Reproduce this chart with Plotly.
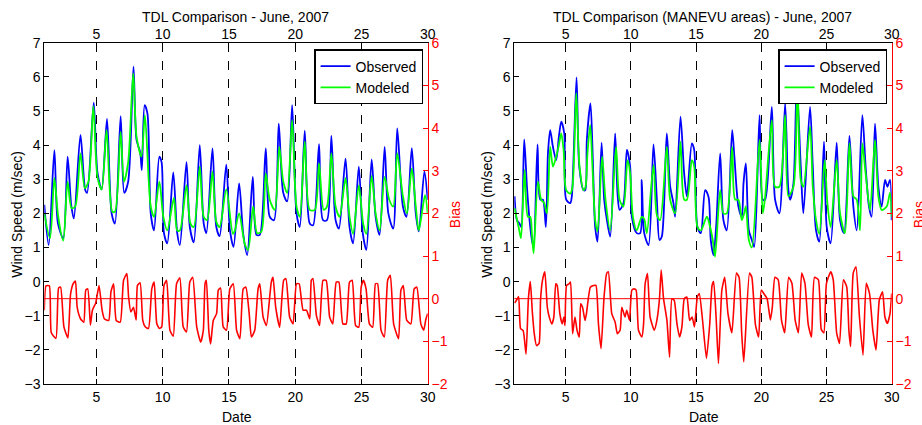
import plotly.graph_objects as go

# ---------------- data (days of June 2007) ----------------
left_obs_t = [1.07,1.4,1.83,2.1,2.5,2.83,3.1,3.3,3.8,4.15,4.3,4.8,5.08,5.4,5.8,6.15,6.4,6.83,7.1,7.4,7.8,8.03,8.3,8.43,8.64,8.85,9.1,9.35,9.75,9.92,10.1,10.35,10.8,11.1,11.3,11.8,12.05,12.35,12.8,13.1,13.3,13.76,14.05,14.3,14.8,15.08,15.35,15.77,16.08,16.38,16.8,17.08,17.33,17.78,18.08,18.4,18.76,19.1,19.4,19.77,20.1,20.35,20.72,21.1,21.35,21.8,22.1,22.4,22.73,23.05,23.3,23.8,24.1,24.37,24.8,25.1,25.37,25.77,26.07,26.37,26.75,27.03,27.4,27.7,28.13,28.4,28.8,29.1,29.33,29.75,30.0]
left_obs_v = [2.25,1.07,3.85,1.7,1.27,3.66,2.25,1.85,4.3,2.7,2.6,5.24,3.2,2.7,4.77,2.0,1.7,4.85,2.6,2.93,6.3,4.15,3.8,3.27,5.17,4.93,2.0,1.5,3.66,3.5,1.42,1.12,3.2,1.42,1.07,3.5,1.6,1.15,4.0,1.7,1.42,3.9,1.6,1.33,3.43,1.5,1.02,2.88,1.4,0.78,3.07,1.37,1.37,3.9,1.9,1.8,4.63,2.6,2.35,5.17,2.0,1.6,4.42,1.7,1.65,4.03,1.8,1.8,4.27,1.8,1.55,3.6,1.6,1.12,3.37,1.42,0.93,3.58,1.9,1.37,3.95,2.0,1.55,4.49,2.2,1.9,3.91,2.0,1.47,3.22,2.4]

left_mod_t = [1.07,1.5,1.83,2.12,2.5,2.83,3.13,3.4,3.8,4.13,4.4,4.77,5.08,5.4,5.77,6.2,6.4,6.83,7.08,7.4,7.78,8.03,8.4,8.66,9.1,9.35,9.75,10.05,10.35,10.85,11.1,11.3,11.8,12.1,12.35,12.8,13.1,13.35,13.76,14.05,14.3,14.8,15.3,15.45,15.77,16.2,16.45,16.83,17.13,17.45,17.78,18.08,18.46,18.8,19.1,19.4,19.77,20.1,20.35,20.72,21.1,21.48,21.8,22.15,22.4,22.73,23.05,23.35,23.8,24.1,24.37,24.8,25.13,25.37,25.77,26.07,26.37,26.75,27.1,27.4,27.7,28.13,28.43,28.8,29.1,29.33,29.8,30.0]
left_mod_v = [2.0,1.27,3.03,1.9,1.2,2.93,2.15,2.2,3.76,2.74,2.93,5.14,3.07,2.7,4.44,2.05,2.05,4.39,2.93,3.5,6.1,4.25,3.66,4.88,2.2,1.9,2.93,1.9,1.5,2.45,1.5,1.5,2.82,1.7,1.6,3.37,1.9,1.8,3.22,1.75,1.6,2.7,1.4,1.5,2.0,1.1,0.93,2.2,1.42,1.47,3.17,2.4,2.1,3.95,2.93,2.6,4.73,2.2,1.9,4.1,2.1,2.1,3.46,2.1,2.2,3.76,2.2,1.9,3.03,1.9,1.4,2.82,1.7,1.4,3.1,2.0,1.5,3.07,2.4,2.2,3.76,2.5,2.0,3.32,2.2,1.5,2.53,2.0]

left_bias_t = [1.07,1.2,1.45,1.6,1.95,2.15,2.3,2.55,2.85,3.05,3.25,3.42,3.55,3.8,4.05,4.2,4.35,4.55,4.7,4.95,5.2,5.43,5.6,5.93,6.1,6.3,6.5,6.8,7.05,7.3,7.43,7.6,7.8,8.0,8.1,8.3,8.5,8.68,8.93,9.18,9.36,9.56,9.76,9.93,10.1,10.3,10.55,10.8,11.05,11.3,11.55,11.8,12.05,12.27,12.57,12.87,13.07,13.2,13.3,13.48,13.62,13.82,14.07,14.2,14.37,14.57,14.82,15.07,15.33,15.58,15.83,16.08,16.28,16.53,16.7,16.95,17.2,17.33,17.58,17.83,18.2,18.33,18.53,18.83,19.13,19.3,19.58,19.84,20.1,20.3,20.6,20.85,21.1,21.22,21.34,21.6,21.84,22.1,22.34,22.6,22.84,23.1,23.3,23.6,23.85,24.1,24.3,24.56,24.8,24.98,25.15,25.35,25.6,25.85,26.06,26.22,26.48,26.73,26.98,27.18,27.43,27.8,27.98,28.16,28.42,28.73,28.98,29.18,29.48,29.7,29.85,30.0]
left_bias_v = [-0.27,0.3,0.3,-0.8,-0.93,0.25,0.27,-0.66,-0.92,0.1,0.35,0.41,-0.2,-0.47,-0.55,0.2,0.23,-0.62,-0.27,-0.1,0.31,-0.27,-0.47,-0.51,0.16,0.35,-0.51,-0.55,0.43,0.59,0.04,-0.31,-0.2,-0.5,0.31,0.37,-0.51,-0.66,-0.7,0.23,0.39,-0.59,-0.7,-0.66,0.31,0.43,-0.74,-0.88,0.35,0.49,-0.66,-0.78,0.39,0.5,-0.66,-1.02,-0.74,0.35,0.43,-0.74,-1.06,-0.51,-0.35,0.2,0.25,-0.66,-0.74,0.23,0.35,-0.74,-0.94,0.23,0.27,-0.35,-0.9,-0.74,0.23,0.35,-0.43,-0.63,0.39,0.5,-0.2,-0.67,0.43,0.47,-0.43,-0.59,0.35,0.35,-0.27,-0.27,-0.47,0.43,0.47,-0.39,-0.63,0.43,0.43,-0.43,-0.59,0.39,0.39,-0.59,-0.59,0.39,0.43,-0.63,-0.67,0.27,0.43,0.23,-0.59,-0.67,0.35,0.35,-0.74,-0.9,0.43,0.55,-0.59,-0.94,0.2,0.31,-0.51,-0.59,0.23,0.27,-0.59,-0.74,-0.5,-0.35]

right_obs_t = [1.09,1.27,1.47,1.6,1.83,2.04,2.24,2.42,2.55,2.85,3.06,3.26,3.49,3.65,3.82,4.03,4.28,4.49,4.67,4.9,5.05,5.36,5.48,5.84,6.05,6.38,6.51,6.63,6.91,7.09,7.27,7.45,7.76,7.96,8.17,8.42,8.8,8.98,9.14,9.44,9.7,9.95,10.08,10.46,10.72,10.84,11.03,11.36,11.74,12.0,12.2,12.38,12.76,13.02,13.27,13.4,13.81,14.09,14.3,14.68,14.86,15.11,15.37,15.7,15.96,16.13,16.34,16.54,16.85,17.1,17.36,17.77,17.94,18.25,18.51,18.64,18.82,19.05,19.28,19.46,19.87,20.12,20.3,20.81,21.06,21.39,21.83,22.08,22.21,22.47,22.72,23.03,23.23,23.74,23.95,24.2,24.45,24.81,25.02,25.32,25.78,26.04,26.35,26.76,27.06,27.32,27.75,28.0,28.26,28.46,28.72,28.98,29.23,29.49,29.67,29.87,30.0]
right_obs_v = [2.5,1.8,1.7,1.6,4.17,2.78,1.8,1.22,1.02,4.02,2.4,2.4,1.6,3.76,4.44,3.95,3.56,4.25,4.69,4.34,2.4,2.3,2.5,5.98,3.37,2.68,2.68,4.15,5.22,3.56,1.6,1.17,4.07,2.4,1.8,1.32,4.34,2.6,2.1,2.3,3.86,3.37,1.9,1.42,1.42,2.98,1.42,1.07,4.02,2.4,1.22,1.32,4.34,2.78,2.3,1.9,4.83,3.17,2.5,4.05,3.86,1.6,1.42,2.68,2.48,1.22,0.78,1.6,3.76,1.8,1.5,4.44,3.66,2.2,1.9,2.88,3.46,1.5,1.22,1.02,4.88,2.4,2.4,5.12,2.4,2.0,5.22,2.68,2.4,2.88,5.76,3.37,2.0,5.12,3.37,1.5,1.17,4.1,1.6,1.12,4.07,1.8,1.42,4.27,2.2,1.5,4.88,3.37,2.2,1.9,4.63,2.78,2.2,2.98,2.78,2.98,1.8]

right_mod_t = [1.09,1.4,1.58,1.86,2.11,2.29,2.42,2.55,2.88,3.13,3.36,3.57,3.82,4.03,4.28,4.46,4.67,4.85,5.05,5.36,5.53,5.82,6.07,6.38,6.53,6.68,6.89,7.06,7.27,7.45,7.8,8.06,8.42,8.87,9.14,9.44,9.75,9.95,10.16,10.46,10.84,11.03,11.23,11.74,12.0,12.25,12.76,13.02,13.4,13.81,14.09,14.3,14.68,14.86,15.11,15.37,15.83,16.08,16.28,16.46,16.85,17.1,17.36,17.77,18.0,18.25,18.51,18.69,18.82,19.05,19.28,19.87,20.12,20.3,20.81,21.06,21.39,21.83,22.08,22.47,22.77,23.03,23.23,23.74,23.95,24.2,24.45,24.86,25.07,25.32,25.78,26.04,26.42,26.76,27.06,27.32,27.57,27.75,28.0,28.34,28.72,28.98,29.23,29.62,29.87,30.0]
right_mod_v = [2.15,1.6,1.27,3.27,1.9,1.9,1.4,0.83,2.93,2.4,2.3,2.0,3.95,3.37,3.66,3.95,4.34,3.85,2.68,2.58,2.78,5.52,3.37,2.68,2.78,3.76,4.59,3.37,1.8,1.47,3.66,2.4,1.5,3.95,2.4,2.2,3.56,3.17,1.9,1.5,1.9,1.83,1.42,3.42,1.95,1.8,3.95,2.4,2.0,4.1,2.4,2.4,3.56,3.37,1.6,1.5,1.9,1.6,1.22,0.73,2.68,2.0,2.0,3.95,2.4,2.4,1.8,2.0,2.2,1.22,1.0,4.15,2.0,2.5,4.73,2.78,2.78,4.88,2.5,2.78,6.0,2.98,2.78,4.54,2.78,1.8,1.4,3.56,2.3,1.6,3.56,2.0,1.42,4.05,2.5,2.4,1.5,4.05,3.17,2.1,4.15,2.5,2.1,2.2,2.6,1.9]

right_bias_t = [1.09,1.25,1.4,1.55,1.75,1.97,2.15,2.3,2.45,2.6,2.77,2.97,3.08,3.23,3.41,3.6,3.75,3.95,4.1,4.25,4.36,4.56,4.74,4.87,4.95,5.08,5.28,5.38,5.54,5.72,5.88,6.05,6.16,6.3,6.49,6.6,6.9,7.15,7.33,7.52,7.72,7.95,8.15,8.28,8.54,8.8,8.97,9.18,9.31,9.56,9.69,9.9,10.08,10.26,10.41,10.59,10.85,10.98,11.1,11.28,11.48,11.8,12.0,12.2,12.33,12.51,12.77,12.97,13.15,13.33,13.54,13.74,13.92,14.1,14.3,14.51,14.7,14.88,15.1,15.25,15.5,15.8,16.05,16.23,16.35,16.55,16.72,16.98,17.2,17.45,17.75,18.1,18.3,18.5,18.66,19.1,19.28,19.55,19.8,20.0,20.2,20.45,20.7,20.85,21.05,21.3,21.55,21.8,22.1,22.35,22.6,22.85,23.1,23.35,23.6,23.85,24.08,24.38,24.6,24.8,25.0,25.33,25.52,25.78,26.0,26.3,26.55,26.72,26.85,27.05,27.26,27.52,27.8,28.05,28.3,28.55,28.8,29.05,29.3,29.48,29.67,29.87,30.0]
right_bias_v = [-0.1,-0.03,0.05,-0.7,-0.75,-1.3,0.0,0.4,-0.3,-0.82,-1.1,-1.05,-0.04,0.43,0.63,-0.2,-0.43,-0.59,-0.43,0.35,0.31,-0.35,-0.59,-0.43,-0.63,0.31,0.35,0.39,-0.82,-0.43,-0.74,-0.9,-0.12,-0.2,-0.51,-0.35,0.27,0.31,0.31,-0.59,-1.17,0.04,0.59,0.63,-0.35,-0.55,-0.82,-0.74,-0.2,-0.43,-0.27,-0.51,0.2,0.23,0.2,-0.74,-0.9,-0.59,0.35,0.59,-0.43,-0.74,-0.51,0.0,0.67,0.0,-0.51,-1.37,0.0,-0.04,-0.59,-0.9,-0.66,0.0,0.04,-0.51,-0.43,-0.66,0.04,0.12,-0.5,-1.4,-0.6,0.31,0.4,-0.5,-1.52,0.2,0.5,-0.35,-0.8,0.6,0.5,-0.8,-1.48,0.6,0.5,-0.6,-0.9,0.2,0.12,0.0,-0.5,-0.2,0.5,0.44,-0.5,-0.8,0.5,0.36,-0.5,-0.8,0.6,0.36,-0.6,-0.9,0.5,0.44,-0.72,-0.8,0.36,0.63,0.44,-0.8,-1.05,0.44,0.28,-0.75,-1.12,0.6,0.75,-0.4,-1.32,0.36,0.12,-0.73,-1.2,-0.03,0.16,-0.43,-0.58,-0.35,0.12]

x_ticks = [5, 10, 15, 20, 25, 30]
wind_ticks = [-3, -2, -1, 0, 1, 2, 3, 4, 5, 6, 7]
bias_ticks = [-2, -1, 0, 1, 2, 3, 4, 5, 6]
titles = ["TDL Comparison - June, 2007", "TDL Comparison (MANEVU areas) - June, 2007"]

# ---------------- layout constants ----------------
W, H = 922, 425
FONT = "Liberation Sans, Arial, sans-serif"
XR = [1.07, 30]
panels = [
    dict(x0=44.3, x1=427.7),
    dict(x0=514.3, x1=891.7),
]
ytop, ybot = 42.7, 384.0
ydom = [1 - ybot / H, 1 - ytop / H]

fig = go.Figure()

series = [
    (left_obs_t, left_obs_v, left_mod_t, left_mod_v, left_bias_t, left_bias_v),
    (right_obs_t, right_obs_v, right_mod_t, right_mod_v, right_bias_t, right_bias_v),
]

for i, (ot, ov, mt, mv, bt, bv) in enumerate(series):
    xa = "x" if i == 0 else "x2"          # bottom x
    xt = "x3" if i == 0 else "x4"         # top x
    yw = "y" if i == 0 else "y3"          # wind
    yb = "y2" if i == 0 else "y4"         # bias
    leg = "legend" if i == 0 else "legend2"
    fig.add_trace(go.Scatter(x=bt, y=bv, mode="lines", name="Bias", showlegend=False,
                             line=dict(color="#FF0000", width=1.6, shape="spline", smoothing=0.5),
                             xaxis=xa, yaxis=yb))
    fig.add_trace(go.Scatter(x=ot, y=ov, mode="lines", name="Observed",
                             line=dict(color="#0000FF", width=1.8, shape="spline", smoothing=0.8),
                             xaxis=xa, yaxis=yw, legend=leg))
    fig.add_trace(go.Scatter(x=mt, y=mv, mode="lines", name="Modeled",
                             line=dict(color="#00FF00", width=1.8, shape="spline", smoothing=0.8),
                             xaxis=xa, yaxis=yw, legend=leg))
    # invisible carrier so the top axis is drawn
    fig.add_trace(go.Scatter(x=XR, y=[0, 0], mode="lines", line=dict(width=0),
                             opacity=0, showlegend=False, hoverinfo="skip",
                             xaxis=xt, yaxis=yw))

    p = panels[i]
    xdom = [p["x0"] / W, p["x1"] / W]
    sfx_b = "" if i == 0 else "2"
    sfx_t = "3" if i == 0 else "4"
    sfx_w = "" if i == 0 else "3"
    sfx_bias = "2" if i == 0 else "4"
    anchor_w = "y" if i == 0 else "y3"
    anchor_x = "x" if i == 0 else "x2"

    fig.layout["xaxis" + sfx_b] = dict(
        domain=xdom, anchor=anchor_w, range=XR, tickvals=x_ticks, automargin=False,
        ticks="inside", ticklen=5, tickcolor="black", showline=True, linecolor="black",
        linewidth=1, mirror=True, showgrid=True, gridcolor="black", griddash="dash",
        gridwidth=1, zeroline=False, tickfont=dict(family=FONT, size=14, color="black"))
    fig.layout["xaxis" + sfx_t] = dict(
        overlaying=anchor_x, anchor=anchor_w, side="top", range=XR, tickvals=x_ticks,
        automargin=False,
        ticks="inside", ticklen=5, tickcolor="black", showline=False, showgrid=False,
        zeroline=False, tickfont=dict(family=FONT, size=14, color="black"))
    fig.layout["yaxis" + sfx_w] = dict(
        domain=ydom, anchor=anchor_x, range=[-3, 7], tickvals=wind_ticks, automargin=False,
        ticks="inside", ticklen=5, tickcolor="black", showline=True, linecolor="black",
        linewidth=1, mirror=False, showgrid=False, zeroline=False,
        tickfont=dict(family=FONT, size=14, color="black"))
    fig.layout["yaxis" + sfx_bias] = dict(
        overlaying=anchor_w, anchor=anchor_x, side="right", range=[-2, 6], automargin=False,
        tickvals=bias_ticks, ticks="inside", ticklen=5, tickcolor="#FF0000",
        showline=True, linecolor="#FF0000", linewidth=1, showgrid=False, zeroline=False,
        tickfont=dict(family=FONT, size=14, color="#FF0000"))

    # zero line for bias
    fig.add_shape(type="line", xref=f"{anchor_x} domain", x0=0, x1=1,
                  yref=yb, y0=0, y1=0, line=dict(color="#FF0000", width=1), layer="above")

    cx = (p["x0"] + p["x1"]) / 2
    fig.add_annotation(x=(cx - 1) / W, y=1 - 17.3 / H, xref="paper", yref="paper",
                       text=titles[i], showarrow=False, xanchor="center", yanchor="middle",
                       font=dict(family=FONT, size=14, color="black"))
    fig.add_annotation(x=(cx + 0.5) / W, y=1 - 416.5 / H, xref="paper", yref="paper",
                       text="Date", showarrow=False, xanchor="center", yanchor="middle",
                       font=dict(family=FONT, size=14, color="black"))
    fig.add_annotation(x=(p["x0"] - 27.5) / W, y=1 - 214 / H, xref="paper", yref="paper",
                       text="Wind Speed (m/sec)", showarrow=False, textangle=-90,
                       xanchor="center", yanchor="middle",
                       font=dict(family=FONT, size=14, color="black"))
    fig.add_annotation(x=(p["x1"] + 27.5) / W, y=1 - 215 / H, xref="paper", yref="paper",
                       text="Bias", showarrow=False, textangle=-90,
                       xanchor="center", yanchor="middle",
                       font=dict(family=FONT, size=14, color="#FF0000"))

legend_common = dict(bgcolor="white", bordercolor="black", borderwidth=1.3,
                     font=dict(family=FONT, size=14, color="black"),
                     xanchor="right", yanchor="top", tracegroupgap=0, itemwidth=30)
fig.update_layout(
    width=W, height=H, margin=dict(l=0, r=0, t=0, b=0, autoexpand=False),
    paper_bgcolor="white", plot_bgcolor="white", showlegend=True,
    legend=dict(x=423.3 / W, y=1 - 49.3 / H, **legend_common),
    legend2=dict(x=887.3 / W, y=1 - 49.3 / H, **legend_common),
)

fig.write_html("out.html")
